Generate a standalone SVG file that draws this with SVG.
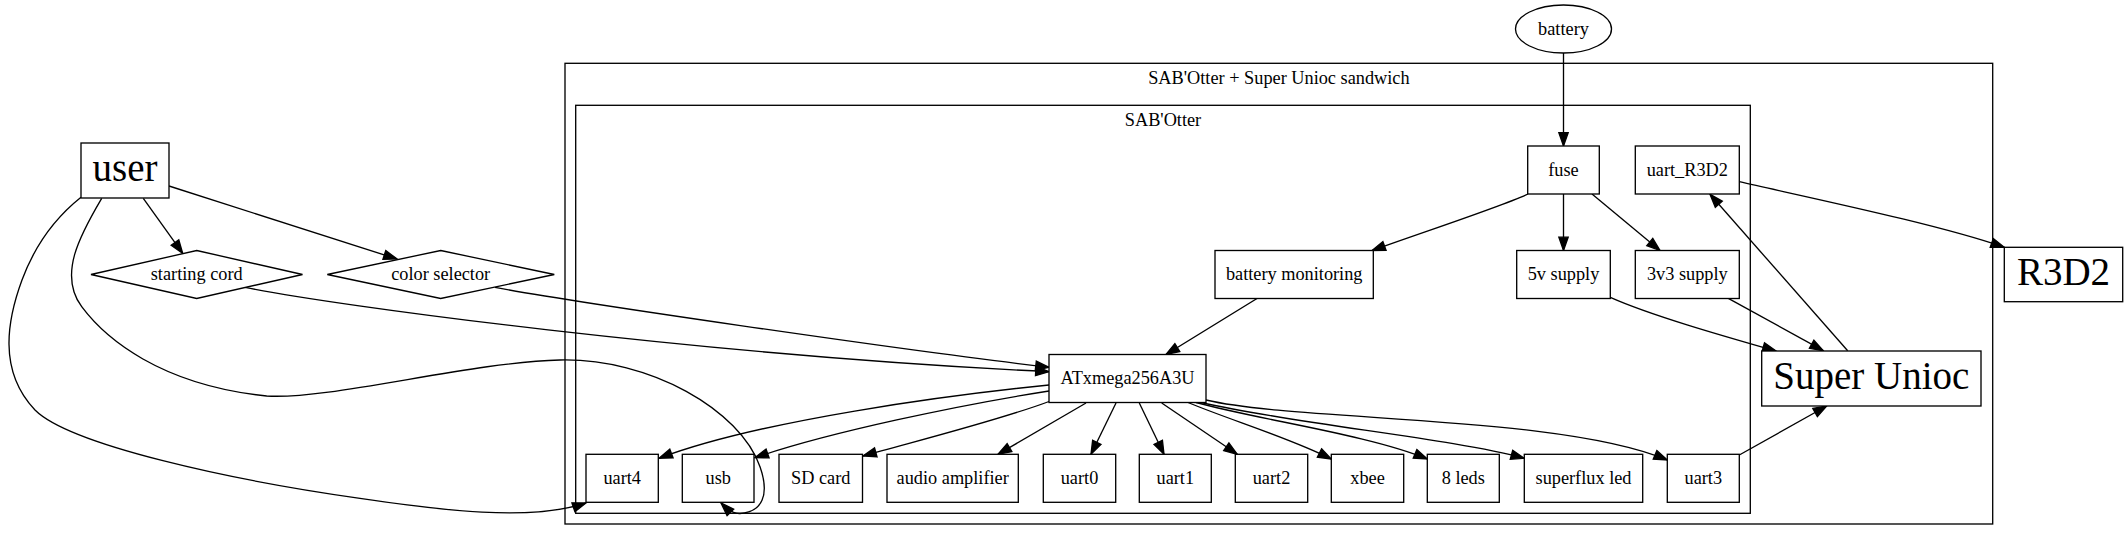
<svg xmlns="http://www.w3.org/2000/svg" width="2128" height="540" viewBox="0 0 2128 540">
<style>
  .bg { fill: #ffffff; }
  .cl { fill: none; stroke: #000; stroke-width: 1.33; }
  .nd { fill: #fff; stroke: #000; stroke-width: 1.33; }
  .ed { fill: none; stroke: #000; stroke-width: 1.33; marker-end: url(#arr); }
  text { font-family: 'Liberation Serif', 'Times New Roman', Times, serif; fill: #000; text-anchor: middle; }
  .t { font-size: 18.3px; }
  .tl { font-size: 39px; }
</style>
<defs>
  <marker id="arr" markerUnits="userSpaceOnUse" markerWidth="16" markerHeight="12" refX="13.3" refY="4.67" orient="auto" overflow="visible">
    <path d="M0,0 L13.3,4.67 L0,9.33 z" fill="#000" stroke="#000" stroke-width="1.33"/>
  </marker>
</defs>
<rect class="bg" x="0" y="0" width="2128" height="540"/>

<g id="cluster_sandwich">
  <rect class="cl" x="565" y="63.3" width="1427.7" height="460.7"/>
  <text class="t" font-family="Liberation Serif, serif" x="1278.9" y="84">SAB'Otter + Super Unioc sandwich</text>
</g>
<g id="cluster_sabotter">
  <rect class="cl" x="575.7" y="105.3" width="1174.6" height="408"/>
  <text class="t" font-family="Liberation Serif, serif" x="1163" y="125.5">SAB'Otter</text>
</g>

<g id="connectors">
  <path class="ed" d="M1563.5,53 L1563.5,146"/>
  <path class="ed" d="M1528,194 C1500,207 1420,233 1372,250.5"/>
  <path class="ed" d="M1563.5,194 L1563.5,250.5"/>
  <path class="ed" d="M1592,194 L1660,250.5"/>
  <path class="ed" d="M1739.3,181.7 C1820,200 1940,225 2004.3,247.3"/>
  <path class="ed" d="M1257,298.5 L1166,354.5"/>
  <path class="ed" d="M1610.3,297.3 C1650,315 1720,335 1776,351"/>
  <path class="ed" d="M1728.3,298.3 L1823.3,350.7"/>
  <path class="ed" d="M1847.7,350.7 L1710,194.3"/>
  <path class="ed" d="M143.3,198.3 L182.7,253.3"/>
  <path class="ed" d="M169,186 L397,259"/>
  <path class="ed" d="M245,287.3 C330,305 700,355 1049,371.7"/>
  <path class="ed" d="M495,287.3 C560,300 900,350 1049,367.3"/>
  <path class="ed" d="M81,197.3 C55,218 35,245 22,280 C8,318 -3,370 35,410 C70,445 230,480 360,498.3 C440,510 530,522 586,503"/>
  <path class="ed" d="M101.7,198.3 C80,235 58,275 81.7,306.7 C105,338 160,385 266.7,396 C330,400 470,362 560,360 C650,358 740,410 760,466.7 C770,495 762,512 740,513.5 C733,514 727,509 721,503"/>
  <path class="ed" d="M1049,385 C950,395 760,420 659,458.3"/>
  <path class="ed" d="M1049,391 C960,405 830,432 755,457.7"/>
  <path class="ed" d="M1049,401.5 C1000,420 920,440 863,456"/>
  <path class="ed" d="M1086,403 L998,454.3"/>
  <path class="ed" d="M1116,403 L1091,454.3"/>
  <path class="ed" d="M1139.3,403 L1164,454.3"/>
  <path class="ed" d="M1161.7,403 L1237.3,454.3"/>
  <path class="ed" d="M1188,402.5 C1230,420 1290,438 1331.3,459"/>
  <path class="ed" d="M1196,402.5 C1260,420 1370,435 1427.3,459"/>
  <path class="ed" d="M1201,402.5 C1300,425 1450,438 1524.3,458.3"/>
  <path class="ed" d="M1206,400 C1300,422 1560,415 1667.3,460"/>
  <path class="ed" d="M1739.3,455 L1826.7,406"/>
</g>

<g id="battery">
  <ellipse class="nd" cx="1563.5" cy="29" rx="48" ry="24"/>
  <text class="t" font-family="Liberation Serif, serif" x="1563.5" y="34.6">battery</text>
</g>
<g id="user">
  <rect class="nd" x="81" y="143" width="88" height="55"/>
  <text class="tl" font-family="Liberation Serif, serif" x="125" y="181">user</text>
</g>
<g id="starting_cord">
  <polygon class="nd" points="196.7,250.5 302.5,274.5 196.7,298.5 91,274.5"/>
  <text class="t" font-family="Liberation Serif, serif" x="196.7" y="280">starting cord</text>
</g>
<g id="color_selector">
  <polygon class="nd" points="440.7,250.5 554.3,274.5 440.7,298.5 327.3,274.5"/>
  <text class="t" font-family="Liberation Serif, serif" x="440.7" y="280">color selector</text>
</g>
<g id="fuse">
  <rect class="nd" x="1527.7" y="146" width="71.6" height="48"/>
  <text class="t" font-family="Liberation Serif, serif" x="1563.5" y="175.6">fuse</text>
</g>
<g id="uart_R3D2">
  <rect class="nd" x="1635.3" y="146" width="104" height="48"/>
  <text class="t" font-family="Liberation Serif, serif" x="1687.3" y="175.6">uart_R3D2</text>
</g>
<g id="battery_monitoring">
  <rect class="nd" x="1215" y="250.5" width="158.3" height="48"/>
  <text class="t" font-family="Liberation Serif, serif" x="1294.2" y="280">battery monitoring</text>
</g>
<g id="supply_5v">
  <rect class="nd" x="1516.7" y="250.5" width="93.6" height="48"/>
  <text class="t" font-family="Liberation Serif, serif" x="1563.5" y="280">5v supply</text>
</g>
<g id="supply_3v3">
  <rect class="nd" x="1635.3" y="250.5" width="104" height="48"/>
  <text class="t" font-family="Liberation Serif, serif" x="1687.3" y="280">3v3 supply</text>
</g>
<g id="R3D2">
  <rect class="nd" x="2004.3" y="247.3" width="118.4" height="54.4"/>
  <text class="tl" font-family="Liberation Serif, serif" x="2063.5" y="285">R3D2</text>
</g>
<g id="ATxmega256A3U">
  <rect class="nd" x="1049" y="354.5" width="157" height="48"/>
  <text class="t" font-family="Liberation Serif, serif" x="1127.5" y="384">ATxmega256A3U</text>
</g>
<g id="Super_Unioc">
  <rect class="nd" x="1761.7" y="351" width="219.3" height="55"/>
  <text class="tl" font-family="Liberation Serif, serif" x="1871.3" y="389">Super Unioc</text>
</g>
<g id="uart4">
  <rect class="nd" x="586" y="454.3" width="72.3" height="48"/>
  <text class="t" font-family="Liberation Serif, serif" x="622.2" y="484">uart4</text>
</g>
<g id="usb">
  <rect class="nd" x="682.3" y="454.3" width="71.7" height="48"/>
  <text class="t" font-family="Liberation Serif, serif" x="718.2" y="484">usb</text>
</g>
<g id="SD_card">
  <rect class="nd" x="779" y="454.3" width="83.5" height="48"/>
  <text class="t" font-family="Liberation Serif, serif" x="820.7" y="484">SD card</text>
</g>
<g id="audio_amplifier">
  <rect class="nd" x="887" y="454.3" width="131.3" height="48"/>
  <text class="t" font-family="Liberation Serif, serif" x="952.7" y="484">audio amplifier</text>
</g>
<g id="uart0">
  <rect class="nd" x="1043.3" y="454.3" width="72.4" height="48"/>
  <text class="t" font-family="Liberation Serif, serif" x="1079.5" y="484">uart0</text>
</g>
<g id="uart1">
  <rect class="nd" x="1139.3" y="454.3" width="72" height="48"/>
  <text class="t" font-family="Liberation Serif, serif" x="1175.3" y="484">uart1</text>
</g>
<g id="uart2">
  <rect class="nd" x="1235.3" y="454.3" width="72.4" height="48"/>
  <text class="t" font-family="Liberation Serif, serif" x="1271.5" y="484">uart2</text>
</g>
<g id="xbee">
  <rect class="nd" x="1331.3" y="454.3" width="72.4" height="48"/>
  <text class="t" font-family="Liberation Serif, serif" x="1367.5" y="484">xbee</text>
</g>
<g id="leds8">
  <rect class="nd" x="1427.3" y="454.3" width="72" height="48"/>
  <text class="t" font-family="Liberation Serif, serif" x="1463.3" y="484">8 leds</text>
</g>
<g id="superflux_led">
  <rect class="nd" x="1524.3" y="454.3" width="118.4" height="48"/>
  <text class="t" font-family="Liberation Serif, serif" x="1583.5" y="484">superflux led</text>
</g>
<g id="uart3">
  <rect class="nd" x="1667.3" y="454.3" width="72" height="48"/>
  <text class="t" font-family="Liberation Serif, serif" x="1703.3" y="484">uart3</text>
</g>
</svg>
